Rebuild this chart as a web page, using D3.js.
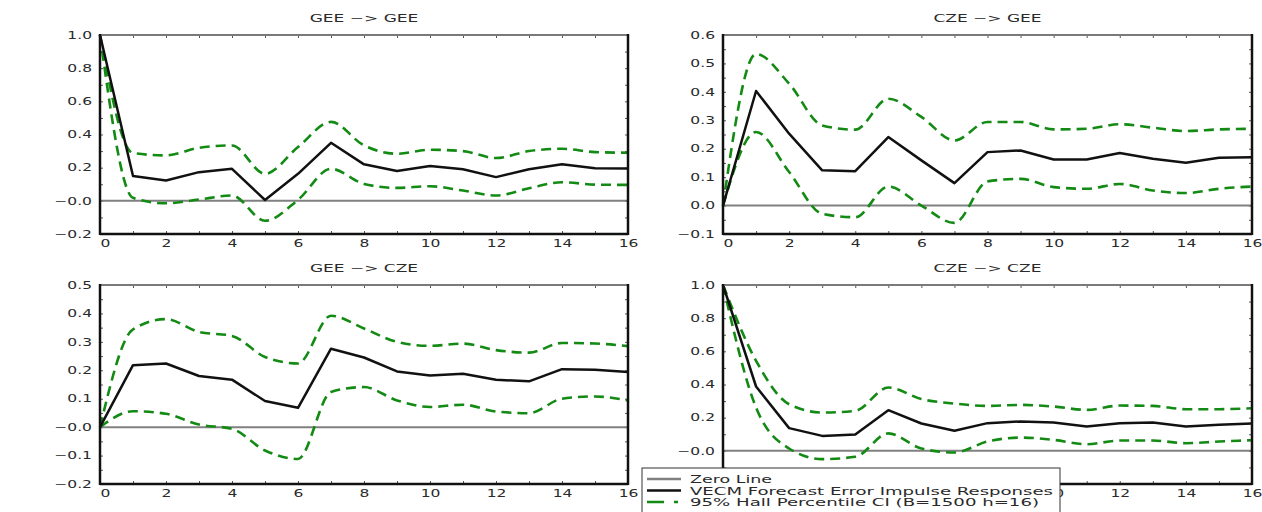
<!DOCTYPE html>
<html>
<head>
<meta charset="utf-8">
<script src="https://cdn.jsdelivr.net/npm/d3@7/dist/d3.min.js"></script>
<style>
  html, body { margin: 0; padding: 0; background: #fff; }
  svg { display: block; }
  text { font-family: "DejaVu Sans", sans-serif; fill: #2a2a2a; }
</style>
</head>
<body>
<svg id="chart" width="1262" height="512"></svg>
<script>
// Forecast horizon (periods after the shock)
const horizons = [0, 1, 2, 3, 4, 5, 6, 7, 8, 9, 10, 11, 12, 13, 14, 15, 16];
const xLabelTicks = [0, 2, 4, 6, 8, 10, 12, 14, 16];

// GEE -> GEE
const geeGeeIrf = [1.0, 0.15, 0.123, 0.173, 0.193, 0.005, 0.163, 0.35, 0.22, 0.18, 0.21, 0.19, 0.143, 0.19, 0.22, 0.197, 0.195];
const geeGeeLo  = [1.0, 0.018, -0.015, 0.008, 0.032, -0.12, 0.006, 0.193, 0.102, 0.078, 0.088, 0.062, 0.032, 0.076, 0.112, 0.098, 0.096];
const geeGeeHi  = [1.0, 0.288, 0.274, 0.32, 0.334, 0.163, 0.324, 0.476, 0.334, 0.284, 0.308, 0.30, 0.258, 0.30, 0.314, 0.294, 0.29];

// CZE -> GEE
const czeGeeIrf = [0.0, 0.403, 0.253, 0.124, 0.121, 0.241, 0.159, 0.079, 0.188, 0.194, 0.162, 0.162, 0.185, 0.165, 0.151, 0.168, 0.17];
const czeGeeLo  = [0.0, 0.259, 0.118, -0.029, -0.041, 0.067, 0.0, -0.061, 0.085, 0.094, 0.065, 0.059, 0.076, 0.053, 0.044, 0.059, 0.067];
const czeGeeHi  = [0.0, 0.533, 0.429, 0.282, 0.267, 0.376, 0.312, 0.229, 0.294, 0.294, 0.268, 0.27, 0.286, 0.274, 0.262, 0.268, 0.27];

// GEE -> CZE
const geeCzeIrf = [0.0, 0.218, 0.224, 0.18, 0.167, 0.092, 0.068, 0.276, 0.245, 0.196, 0.182, 0.188, 0.167, 0.161, 0.204, 0.202, 0.194];
const geeCzeLo  = [0.0, 0.056, 0.047, 0.009, -0.006, -0.082, -0.112, 0.124, 0.141, 0.094, 0.071, 0.079, 0.055, 0.049, 0.10, 0.108, 0.094];
const geeCzeHi  = [0.0, 0.344, 0.38, 0.335, 0.321, 0.247, 0.224, 0.392, 0.347, 0.30, 0.286, 0.294, 0.271, 0.262, 0.296, 0.294, 0.285];

// CZE -> CZE
const czeCzeIrf = [1.0, 0.388, 0.137, 0.09, 0.099, 0.245, 0.165, 0.121, 0.167, 0.177, 0.171, 0.147, 0.167, 0.171, 0.147, 0.157, 0.165];
const czeCzeLo  = [1.0, 0.261, 0.014, -0.05, -0.036, 0.105, 0.014, -0.01, 0.056, 0.08, 0.066, 0.04, 0.062, 0.062, 0.046, 0.056, 0.064];
const czeCzeHi  = [1.0, 0.543, 0.281, 0.231, 0.241, 0.382, 0.312, 0.285, 0.271, 0.277, 0.267, 0.247, 0.273, 0.271, 0.251, 0.251, 0.257];

// Y axis tick values and their printed labels
const yTicksWide   = [1.0, 0.8, 0.6, 0.4, 0.2, 0.0, -0.2];
const yMinorWide   = [1.0, 0.9, 0.8, 0.7, 0.6, 0.5, 0.4, 0.3, 0.2, 0.1, 0.0, -0.1, -0.2];
const yLabelsWide  = ["1.0", "0.8", "0.6", "0.4", "0.2", "\u22120.0", "\u22120.2"];
const yTicksCzeGee  = [0.6, 0.5, 0.4, 0.3, 0.2, 0.1, 0.0, -0.1];
const yMinorCzeGee  = [0.6, 0.55, 0.5, 0.45, 0.4, 0.35, 0.3, 0.25, 0.2, 0.15, 0.1, 0.05, 0.0, -0.05, -0.1];
const yLabelsCzeGee = ["0.6", "0.5", "0.4", "0.3", "0.2", "0.1", "0.0", "\u22120.1"];
const yTicksGeeCze  = [0.5, 0.4, 0.3, 0.2, 0.1, 0.0, -0.1, -0.2];
const yMinorGeeCze  = [0.5, 0.45, 0.4, 0.35, 0.3, 0.25, 0.2, 0.15, 0.1, 0.05, 0.0, -0.05, -0.1, -0.15, -0.2];
const yLabelsGeeCze = ["0.5", "0.4", "0.3", "0.2", "0.1", "\u22120.0", "\u22120.1", "\u22120.2"];

const panelTitles = ["GEE \u2212> GEE", "CZE \u2212> GEE", "GEE \u2212> CZE", "CZE \u2212> CZE"];
const legendLabels = ["Zero Line", "VECM Forecast Error Impulse Responses", "95% Hall Percentile CI (B=1500 h=16)"];

const GREEN = "#138a13";
const GLYPH_STRETCH = 1.55;

// legend box, which sits over the lower-right panel
const legendBox = { x: 642, y: 468, w: 418, h: 50 };

const panels = [
  { title: panelTitles[0], irf: geeGeeIrf, lo: geeGeeLo, hi: geeGeeHi, domain: [-0.2, 1.0],
    ticks: yTicksWide, minor: yMinorWide, labels: yLabelsWide, box: [100, 35, 628, 234] },
  { title: panelTitles[1], irf: czeGeeIrf, lo: czeGeeLo, hi: czeGeeHi, domain: [-0.1, 0.6],
    ticks: yTicksCzeGee, minor: yMinorCzeGee, labels: yLabelsCzeGee, box: [723, 35, 1252, 234] },
  { title: panelTitles[2], irf: geeCzeIrf, lo: geeCzeLo, hi: geeCzeHi, domain: [-0.2, 0.5],
    ticks: yTicksGeeCze, minor: yMinorGeeCze, labels: yLabelsGeeCze, box: [100, 285, 628, 484] },
  { title: panelTitles[3], irf: czeCzeIrf, lo: czeCzeLo, hi: czeCzeHi, domain: [-0.2, 1.0],
    ticks: yTicksWide, minor: yMinorWide, labels: yLabelsWide, box: [723, 285, 1252, 484] }
];

const svg = d3.select("#chart");

// widen glyphs so the lettering has the broad, tracked look of the plot font
function widen(sel, k) {
  sel.each(function () {
    const w = this.getComputedTextLength();
    this.setAttribute("textLength", w * k);
    this.setAttribute("lengthAdjust", "spacingAndGlyphs");
  });
}

// tick labels completely hidden behind the legend box are not drawn
function hiddenByLegend(node) {
  const b = node.getBoundingClientRect();
  return b.left >= legendBox.x && b.right <= legendBox.x + legendBox.w &&
         b.top >= legendBox.y - 2;
}
function dropHidden(sel) {
  sel.filter(function () { return hiddenByLegend(this); }).each(function () {
    d3.select(this.parentNode).remove();
  });
}

panels.forEach(p => {
  const [x0, y0, x1, y1] = p.box;
  const x = d3.scaleLinear().domain([0, 16]).range([x0, x1]);
  const y = d3.scaleLinear().domain(p.domain).range([y1, y0]);
  const g = svg.append("g");

  // title
  const t = g.append("text")
    .attr("x", (x0 + x1) / 2).attr("y", y0 - 13)
    .attr("text-anchor", "middle").attr("font-size", 10)
    .text(p.title);
  widen(t, 1.7);

  // inner tick marks on all four sides
  const tickStyle = a => a.selectAll(".tick line").attr("stroke", "#555").attr("stroke-width", 1);
  g.append("g").attr("transform", `translate(0,${y1})`)
    .call(d3.axisBottom(x).tickValues(horizons).tickSize(-3).tickFormat(""))
    .call(a => a.select(".domain").remove()).call(tickStyle);
  g.append("g").attr("transform", `translate(0,${y0})`)
    .call(d3.axisTop(x).tickValues(horizons).tickSize(-3).tickFormat(""))
    .call(a => a.select(".domain").remove()).call(tickStyle);
  g.append("g").attr("transform", `translate(${x0},0)`)
    .call(d3.axisLeft(y).tickValues(p.minor).tickSize(-3).tickFormat(""))
    .call(a => a.select(".domain").remove()).call(tickStyle);
  g.append("g").attr("transform", `translate(${x1},0)`)
    .call(d3.axisRight(y).tickValues(p.minor).tickSize(-3).tickFormat(""))
    .call(a => a.select(".domain").remove()).call(tickStyle);

  // tick labels
  const yl = g.append("g").attr("transform", `translate(${x0},0)`)
    .call(d3.axisLeft(y).tickValues(p.ticks).tickSize(0).tickPadding(8)
      .tickFormat((d, i) => p.labels[i]));
  yl.select(".domain").remove();
  yl.selectAll("text").attr("font-size", 10).attr("font-family", "DejaVu Sans").attr("fill", "#2a2a2a");
  widen(yl.selectAll("text"), GLYPH_STRETCH);
  dropHidden(yl.selectAll("text"));

  const xl = g.append("g").attr("transform", `translate(0,${y1})`)
    .call(d3.axisBottom(x).tickValues(xLabelTicks).tickSize(0).tickPadding(6)
      .tickFormat(d3.format("d")));
  xl.select(".domain").remove();
  xl.selectAll("text").attr("font-size", 10).attr("font-family", "DejaVu Sans").attr("fill", "#2a2a2a")
    .attr("dx", d => d === 0 ? 5 : 0);
  widen(xl.selectAll("text"), GLYPH_STRETCH);
  dropHidden(xl.selectAll("text"));

  // zero line
  g.append("line")
    .attr("x1", x0).attr("x2", x1).attr("y1", y(0)).attr("y2", y(0))
    .attr("stroke", "#808080").attr("stroke-width", 2);

  // confidence band edges
  const ciLine = d3.line().x((d, i) => x(horizons[i])).y(d => y(d)).curve(d3.curveMonotoneX);
  [p.lo, p.hi].forEach(s => {
    g.append("path").attr("d", ciLine(s))
      .attr("fill", "none").attr("stroke", GREEN).attr("stroke-width", 2.6)
      .attr("stroke-dasharray", "10,6");
  });

  // point estimate
  const irfLine = d3.line().x((d, i) => x(horizons[i])).y(d => y(d));
  g.append("path").attr("d", irfLine(p.irf))
    .attr("fill", "none").attr("stroke", "#111").attr("stroke-width", 2.5)
    .attr("stroke-linejoin", "round");

  // frame
  g.append("line").attr("x1", x0).attr("x2", x1).attr("y1", y0).attr("y2", y0)
    .attr("stroke", "#7a7a7a").attr("stroke-width", 2);
  g.append("line").attr("x1", x0).attr("x2", x1).attr("y1", y1).attr("y2", y1)
    .attr("stroke", "#111").attr("stroke-width", 2.5);
  g.append("line").attr("x1", x0).attr("x2", x0).attr("y1", y0 - 1).attr("y2", y1 + 1)
    .attr("stroke", "#111").attr("stroke-width", 2.5);
  g.append("line").attr("x1", x1).attr("x2", x1).attr("y1", y0 - 1).attr("y2", y1 + 1)
    .attr("stroke", "#111").attr("stroke-width", 2.5);
});

// legend
const lg = svg.append("g").attr("transform", `translate(${legendBox.x},${legendBox.y})`);
lg.append("rect").attr("x", 0).attr("y", 0).attr("width", legendBox.w).attr("height", legendBox.h)
  .attr("fill", "#fff").attr("stroke", "#333").attr("stroke-width", 1);
const legendStyles = [
  { stroke: "#808080", dash: null },
  { stroke: "#111", dash: null },
  { stroke: GREEN, dash: "17,10,4,10" }
];
const legendWidths = [82, 363, 349];
legendLabels.forEach((lab, i) => {
  const cy = 11 + i * 11.5;
  lg.append("line").attr("x1", 5).attr("x2", 39).attr("y1", cy).attr("y2", cy)
    .attr("stroke", legendStyles[i].stroke).attr("stroke-width", 2.5)
    .attr("stroke-dasharray", legendStyles[i].dash);
  lg.append("text").attr("x", 48).attr("y", cy + 4).attr("font-size", 10)
    .attr("textLength", legendWidths[i]).attr("lengthAdjust", "spacingAndGlyphs")
    .text(lab);
});
</script>
</body>
</html>
